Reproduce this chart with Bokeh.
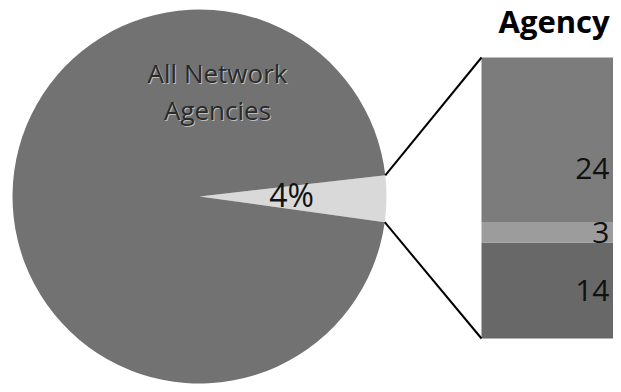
import math
from bokeh.plotting import figure
from bokeh.models import Range1d, ColumnDataSource
from bokeh.core.properties import value
from bokeh.embed import file_html
from bokeh.resources import INLINE

# ---- data ----
pie_labels = ["4%", "All Network Agencies"]
pie_shares = [4, 96]
bar_labels = ["14", "3", "24"]
bar_values = [14, 3, 24]
title_text = "Agency"

pie_colors = ["#d9d9d9", "#727272"]
bar_colors = ["#686868", "#9c9c9c", "#7c7c7c"]

W, H = 613, 384
p = figure(width=W, height=H, output_backend="svg", toolbar_location=None,
           x_range=Range1d(0, W), y_range=Range1d(392 - H, 392),
           min_border=0, background_fill_color="white", border_fill_color="white")
p.axis.visible = False
p.grid.visible = False
p.outline_line_color = None

# pie geometry (layout)
cx, cy, r = 199, 196, 187
total = sum(pie_shares)
small = pie_shares[0] / total * 2 * math.pi
tilt = -0.012
starts = [-small / 2 + tilt, small / 2 + tilt]
ends = [small / 2 + tilt, 2 * math.pi - small / 2 + tilt]
p.wedge(x=[cx, cx], y=[cy, cy], radius=r, start_angle=starts, end_angle=ends,
        fill_color=pie_colors, line_color=None)

# labels in pie
p.text(x=[cx + 92], y=[cy + 2], text=[pie_labels[0]], text_font=value("Open Sans"),
       text_font_size="32px", text_align="center", text_baseline="middle", text_color="#111111")
lines = ["All Network", "Agencies"]
for i, t in enumerate(lines):
    yy = 392 - 72 - 37 * i
    p.text(x=[218], y=[yy - 1], text=[t], text_font=value("Open Sans"), text_font_size="26px",
           text_align="center", text_baseline="middle", text_color="#bdbdbd")
    p.text(x=[217], y=[yy], text=[t], text_font=value("Open Sans"), text_font_size="26px",
           text_align="center", text_baseline="middle", text_color="#2a2a2a")

# stacked bar
bar_left, bar_right = 481, 760
bar_bottom, bar_height = 392 - 338, 281
btot = sum(bar_values)
scale = bar_height / btot
bottoms, tops, mids = [], [], []
acc = 0
for v in bar_values:
    bottoms.append(bar_bottom + acc * scale)
    acc += v
    tops.append(bar_bottom + acc * scale)
    mids.append((bottoms[-1] + tops[-1]) / 2)
p.quad(left=bar_left, right=bar_right, bottom=bottoms, top=tops,
       fill_color=bar_colors, line_color=None)

label_offsets = [0, 0, 29]
src = ColumnDataSource(dict(x=[609] * 3, y=mids, t=bar_labels, off=label_offsets))
p.text(x="x", y="y", text="t", y_offset="off", source=src, text_font=value("Open Sans"),
       text_font_size="30px", text_align="right", text_baseline="middle", text_color="#111111")

# connector lines
a1, a2 = ends[0], starts[0]
x0s = [cx + r * math.cos(a1), cx + r * math.cos(a2)]
y0s = [cy + r * math.sin(a1), cy + r * math.sin(a2)]
p.segment(x0=x0s, y0=y0s, x1=[bar_left, bar_left], y1=[tops[-1], bottoms[0]],
          line_color="black", line_width=2)

# title
p.text(x=[498], y=[392 - 20], text=[title_text], text_font=value("Open Sans"),
       text_font_size="31px", text_font_style="bold", text_align="left",
       text_baseline="middle", text_color="black")

open("out.html", "w").write(file_html(p, INLINE))
